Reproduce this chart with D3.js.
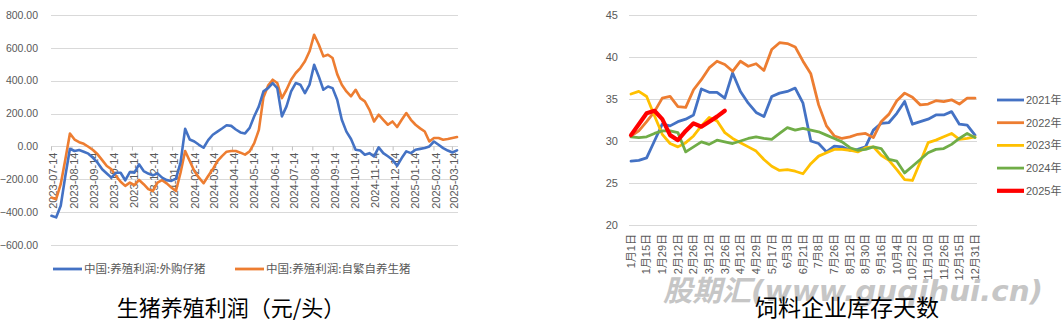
<!DOCTYPE html>
<html><head><meta charset="utf-8">
<script src="https://cdn.jsdelivr.net/npm/d3@7"></script>
<style>
html,body{margin:0;padding:0;background:#fff;}
svg{display:block;}
</style></head><body>
<svg id="chart" width="1064" height="324"></svg>
<script>
// ---------- hog farming profit (yuan per head), weekly ----------
const profitStart = "2023-07-14";
const profitTickLabels = ["2023-07-14","2023-08-14","2023-09-14","2023-10-14","2023-11-14","2023-12-14",
  "2024-01-14","2024-02-14","2024-03-14","2024-04-14","2024-05-14","2024-06-14","2024-07-14",
  "2024-08-14","2024-09-14","2024-10-14","2024-11-14","2024-12-14","2025-01-14","2025-02-14","2025-03-14"];
const profitYTicks = [800,600,400,200,0,-200,-400,-600];
const profitSeriesNames = ["中国:养殖利润:外购仔猪","中国:养殖利润:自繁自养生猪"];
const profitOutsourced = [
  -422,-432,-361,-180,-14,-28,-22,-32,-44,-69,
  -99,-139,-165,-190,-160,-160,-206,-156,-160,-109,
  -150,-165,-176,-164,-190,-205,-210,-196,-99,107,
  42,30,10,-8,38,71,90,109,129,125,
  103,85,79,113,184,244,335,355,386,355,
  183,244,335,386,376,325,376,497,426,345,
  365,355,284,162,90,45,-20,-25,-51,-41,
  -61,-6,-41,-60,-81,-118,-71,-30,-41,-20,
  -15,-10,0,30,10,-10,-25,-37,-24];
const profitSelfBred = [
  -311,-321,-230,-79,79,42,26,16,-2,-22,
  -48,-83,-119,-139,-180,-215,-240,-220,-236,-204,
  -230,-260,-271,-220,-205,-225,-250,-271,-160,-28,
  -89,-150,-190,-224,-180,-139,-89,-59,-32,-28,
  -28,-38,-50,-30,20,101,300,370,406,386,
  294,345,406,447,477,518,579,680,620,548,
  558,538,440,376,335,305,345,294,274,223,
  152,193,162,132,152,118,162,203,162,132,
  110,91,30,51,51,41,45,51,57];

// ---------- feed mill inventory days ----------
const stockDates = ["1月1日","1月8日","1月15日","1月22日","1月29日","2月5日","2月12日","2月19日","2月26日",
  "3月5日","3月12日","3月19日","3月26日","4月3日","4月12日","4月20日","4月29日","5月8日","5月17日",
  "5月26日","6月3日","6月12日","6月21日","6月30日","7月8日","7月17日","7月26日","8月3日","8月12日",
  "8月21日","8月30日","9月7日","9月16日","9月25日","10月4日","10月13日","10月22日","11月1日",
  "11月10日","11月18日","11月26日","12月5日","12月15日","12月23日","12月31日"];
const stockYTicks = [20,25,30,35,40,45];
const stockYears = ["2021年","2022年","2023年","2024年","2025年"];
const stock2021 = [27.6,27.7,28.0,30.0,32.0,31.8,32.3,32.6,33.1,36.2,
  35.8,35.8,35.1,38.1,35.9,34.5,33.4,32.9,35.3,35.7,
  35.9,36.3,34.5,30.0,29.7,28.7,29.4,29.3,28.9,29.0,
  29.3,31.3,32.1,32.2,33.3,34.7,32.0,32.3,32.6,33.1,
  33.1,33.5,32.0,31.9,30.7];
const stock2022 = [30.6,31.2,32.3,33.5,35.1,35.3,34.1,34.0,36.1,37.3,
  38.7,39.5,39.1,38.3,39.5,38.9,39.2,38.4,40.9,41.7,
  41.6,41.2,39.5,38.0,34.3,31.8,30.6,30.3,30.5,30.8,
  30.9,30.4,32.3,33.2,34.8,35.7,35.2,34.3,34.4,34.8,
  34.7,34.9,34.4,35.1,35.1];
const stock2023 = [35.6,35.9,35.3,33.0,30.8,29.7,29.3,29.8,30.6,31.8,
  32.8,32.4,31.0,30.3,29.8,29.3,28.8,27.8,27.0,26.5,
  26.6,26.4,26.1,27.3,28.2,28.6,29.0,29.0,28.9,28.7,
  29.2,29.3,28.3,27.7,26.6,25.4,25.3,27.5,29.8,30.1,
  30.5,30.9,30.2,30.3,30.5];
const stock2024 = [30.5,30.4,30.5,30.9,31.2,31.2,31.0,28.7,29.3,29.9,
  29.6,30.1,29.9,29.7,30.0,30.3,30.5,30.3,30.2,30.9,
  31.6,31.3,31.5,31.3,31.1,30.7,30.3,29.9,29.2,28.9,
  29.0,29.3,29.1,27.8,27.6,26.2,27.0,27.8,28.6,29.0,
  29.1,29.6,30.3,30.9,30.4];
const stock2025 = [30.7,32.0,33.3,33.6,32.6,30.7,30.1,31.2,32.1,31.7,32.3,32.9,33.6];

const svg = d3.select("#chart");
const labelFont = "'Liberation Sans','Noto Sans CJK SC',sans-serif";
const cjkFont = "'Noto Sans CJK SC',sans-serif";
const gridColor = "#d9d9d9";
const textColor = "#595959";

// ================= left chart =================
{
  const parse = d3.utcParse("%Y-%m-%d");
  const t0 = parse(profitStart);
  const dates = profitOutsourced.map((_, i) => d3.utcDay.offset(t0, 7 * i));
  const x = d3.scaleUtc().domain([t0, dates[dates.length - 1]]).range([51.5, 457]);
  const y = d3.scaleLinear().domain([-600, 800]).range([245, 15]);
  const g = svg.append("g");

  // horizontal gridlines + value labels
  g.selectAll("line.grid").data(profitYTicks).join("line")
    .attr("x1", 51).attr("x2", 458)
    .attr("y1", d => Math.round(y(d)) + 0.5).attr("y2", d => Math.round(y(d)) + 0.5)
    .attr("stroke", gridColor).attr("stroke-width", 1);
  g.selectAll("text.ylab").data(profitYTicks).join("text")
    .attr("x", 38).attr("y", d => y(d)).attr("dy", "0.35em")
    .attr("text-anchor", "end").attr("font-family", labelFont).attr("font-size", 10.5)
    .attr("fill", textColor).text(d => d3.format(".2f")(d));

  // month ticks on the zero line
  const ticks = profitTickLabels.map(parse);
  const y0 = Math.round(y(0)) + 0.5;
  g.selectAll("line.tick").data(ticks).join("line")
    .attr("x1", d => x(d)).attr("x2", d => x(d))
    .attr("y1", y0).attr("y2", y0 + 4)
    .attr("stroke", "#bfbfbf").attr("stroke-width", 1);
  g.selectAll("text.xlab").data(profitTickLabels).join("text")
    .attr("transform", d => `translate(${x(parse(d)) + 2},${y0 + 6}) rotate(-90)`)
    .attr("dy", "0.35em").attr("text-anchor", "end")
    .attr("font-family", labelFont).attr("font-size", 11).attr("fill", textColor)
    .text(d => d);

  const line = d3.line().x((d, i) => x(dates[i])).y(d => y(d));
  const series = [[profitOutsourced, "#4472C4"], [profitSelfBred, "#ED7D31"]];
  series.slice().reverse().forEach(([vals, col]) => {
    g.append("path").attr("d", line(vals)).attr("fill", "none")
      .attr("stroke", col).attr("stroke-width", 2.6)
      .attr("stroke-linejoin", "round").attr("stroke-linecap", "round");
  });

  // legend
  const legX = [53, 235];
  profitSeriesNames.forEach((name, i) => {
    g.append("line").attr("x1", legX[i]).attr("x2", legX[i] + 29)
      .attr("y1", 269).attr("y2", 269).attr("stroke", series[i][1]).attr("stroke-width", 2.8);
    g.append("text").attr("x", legX[i] + 31).attr("y", 269).attr("dy", "0.35em")
      .attr("font-family", cjkFont).attr("font-size", 11.5).attr("fill", textColor).text(name);
  });

  g.append("text").attr("x", 231).attr("y", 316).attr("text-anchor", "middle")
    .attr("font-family", cjkFont).attr("font-size", 22).attr("fill", "#000")
    .text("生猪养殖利润（元/头）");
}

// ================= right chart =================
{
  const x = d3.scalePoint().domain(stockDates).range([631, 975]);
  const y = d3.scaleLinear().domain([20, 45]).range([225, 15]);
  const g = svg.append("g");

  g.selectAll("line.grid").data(stockYTicks).join("line")
    .attr("x1", 629).attr("x2", 977)
    .attr("y1", d => Math.round(y(d)) + 0.5).attr("y2", d => Math.round(y(d)) + 0.5)
    .attr("stroke", gridColor).attr("stroke-width", 1);
  g.selectAll("text.ylab").data(stockYTicks).join("text")
    .attr("x", 618).attr("y", d => y(d)).attr("dy", "0.35em")
    .attr("text-anchor", "end").attr("font-family", labelFont).attr("font-size", 11)
    .attr("fill", textColor).text(d => d);

  const shown = stockDates.filter((d, i) => i % 2 === 0);
  g.selectAll("text.xlab").data(shown).join("text")
    .attr("transform", d => `translate(${x(d)},${234}) rotate(-90)`)
    .attr("dy", "0.35em").attr("text-anchor", "end")
    .attr("font-family", labelFont).attr("font-size", 11).attr("fill", textColor)
    .text(d => d);

  // watermark sits beneath the caption
  svg.append("text").attr("x", 663).attr("y", 301)
    .attr("textLength", 380).attr("lengthAdjust", "spacingAndGlyphs")
    .attr("font-family", "'DejaVu Sans','Noto Sans CJK SC',sans-serif")
    .attr("font-weight", "bold").attr("font-style", "italic").attr("font-size", 29)
    .attr("fill", "#c6c6c6").text("股期汇(www.guqihui.cn)");

  const line = d3.line().x((d, i) => x(stockDates[i])).y(d => y(d));
  const series = [
    [stock2021, "#4472C4", 2.8],
    [stock2022, "#ED7D31", 2.8],
    [stock2023, "#FFC000", 2.8],
    [stock2024, "#70AD47", 2.8],
    [stock2025, "#FF0000", 4.2]
  ];
  series.forEach(([vals, col, w]) => {
    g.append("path").attr("d", line(vals)).attr("fill", "none")
      .attr("stroke", col).attr("stroke-width", w)
      .attr("stroke-linejoin", "round").attr("stroke-linecap", "round");
  });

  stockYears.forEach((name, i) => {
    const ly = 100 + i * 22.7;
    g.append("line").attr("x1", 997).attr("x2", 1024).attr("y1", ly).attr("y2", ly)
      .attr("stroke", series[i][1]).attr("stroke-width", i === 4 ? 4.2 : 2.8);
    g.append("text").attr("x", 1026).attr("y", ly).attr("dy", "0.35em")
      .attr("font-family", labelFont).attr("font-size", 11).attr("fill", textColor).text(name);
  });

  svg.append("text").attr("x", 847).attr("y", 316).attr("text-anchor", "middle")
    .attr("font-family", cjkFont).attr("font-size", 23).attr("fill", "#000")
    .text("饲料企业库存天数");
}
</script>
</body></html>
